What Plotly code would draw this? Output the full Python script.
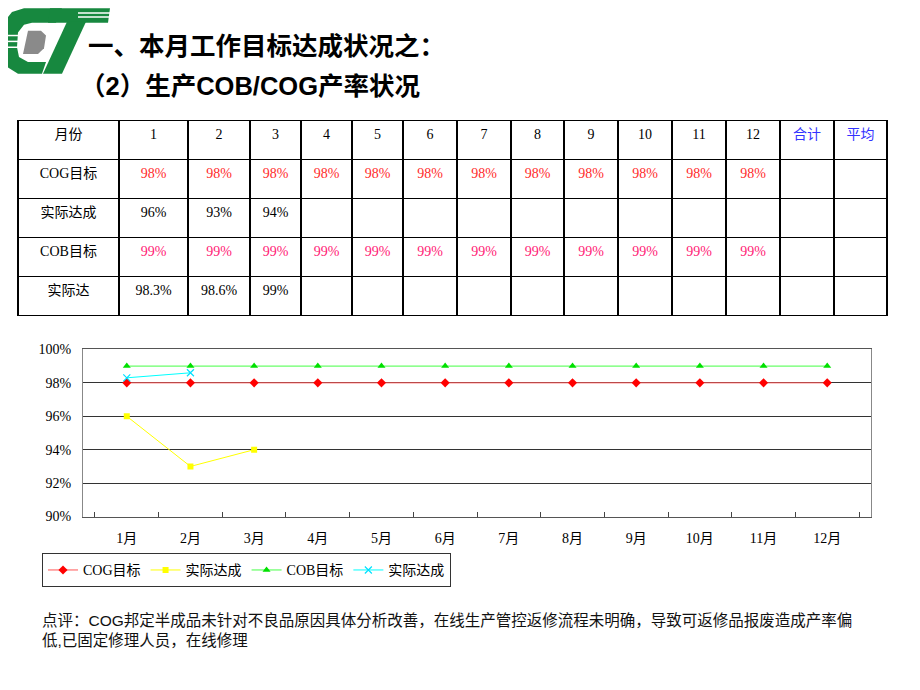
import plotly.graph_objects as go

# page is 920x690 but body has an 8px margin, so the figure is 904x674
W, H, OFF = 904, 674, 8

# data
months = ["1", "2", "3", "4", "5", "6", "7", "8", "9", "10", "11", "12"]
month_labels = ["1月", "2月", "3月", "4月", "5月", "6月", "7月", "8月", "9月", "10月", "11月", "12月"]
cog_target = [98, 98, 98, 98, 98, 98, 98, 98, 98, 98, 98, 98]
cog_actual = [96, 93, 94]
cob_target = [99, 99, 99, 99, 99, 99, 99, 99, 99, 99, 99, 99]
cob_actual = [98.3, 98.6, 99]
cob_actual_chart = [98.3, 98.6]   # chart only plots the first two months
row_names = ["COG目标", "实际达成", "COB目标", "实际达"]
col_widths = [101, 69, 62, 51, 51, 51, 54, 54, 53, 54, 54, 54, 54, 54, 53]

CJK_SERIF = "Liberation Serif, Noto Sans CJK SC"
CJK_SANS = "Liberation Sans, Noto Sans CJK SC"


def fx(x):
    return (x - OFF) / W


def fy(y):
    return 1 - (y - OFF) / H


def path(points, dy=-4):
    out = []
    for i, (x, y) in enumerate(points):
        out.append(("M" if i == 0 else "L") + f"{fx(x):.5f},{fy(y + dy):.5f}")
    return " ".join(out) + " Z"


def pct(v):
    return f"{v:g}%"


fig = go.Figure()

## table
header_vals = ["月份"] + months + ["合计", "平均"]
header_cols = ["black"] * 13 + ["#3333ff", "#3333ff"]
cells = [row_names]
cols = [["black"] * 4]
for i in range(12):
    col = [pct(cog_target[i]),
           pct(cog_actual[i]) if i < len(cog_actual) else "",
           pct(cob_target[i]),
           pct(cob_actual[i]) if i < len(cob_actual) else ""]
    cells.append(col)
    cols.append(["#ff2b2b", "black", "#ff1a75", "black"])
for _ in range(2):
    cells.append(["", "", "", ""])
    cols.append(["black"] * 4)

fig.add_trace(go.Table(
    domain=dict(x=[fx(18), fx(887)], y=[fy(320), fy(116)]),
    columnwidth=col_widths,
    header=dict(values=header_vals, height=39, align="center",
                fill_color="white", line=dict(color="black", width=1.5),
                font=dict(family=CJK_SERIF, size=14, color=header_cols)),
    cells=dict(values=cells, height=39, align="center",
               fill_color="white", line=dict(color="black", width=1.5),
               font=dict(family=CJK_SERIF, size=14, color=cols)),
))

## chart traces
fig.add_trace(go.Scatter(x=month_labels, y=cog_target, name="COG目标", mode="lines+markers",
                         line=dict(color="#ff5555", width=1),
                         marker=dict(symbol="diamond", size=7, color="red")))
fig.add_trace(go.Scatter(x=month_labels[:len(cog_actual)], y=cog_actual, name="实际达成", mode="lines+markers",
                         line=dict(color="#ffff00", width=1),
                         marker=dict(symbol="square", size=6, color="#ffff00")))
fig.add_trace(go.Scatter(x=month_labels, y=cob_target, name="COB目标", mode="lines+markers",
                         line=dict(color="#44ff44", width=1),
                         marker=dict(symbol="triangle-up", size=7, color="#00e000")))
fig.add_trace(go.Scatter(x=month_labels[:len(cob_actual_chart)], y=cob_actual_chart, name="实际达成",
                         mode="lines+markers",
                         line=dict(color="#00ffff", width=1),
                         marker=dict(symbol="x-thin", size=7, line=dict(color="#00e0ff", width=1.2))))

## logo
green = "#17883f"
shapes = [
    dict(type="path", path=path([(62, 5), (24, 5), (12, 9), (5, 18), (3, 30), (3, 52), (7, 65), (18, 72),
                                 (42, 72), (46, 60), (28, 60), (19, 55), (17, 45), (18, 30), (24, 22), (32, 20), (56, 20)]),
         fillcolor=green, line_width=0),
    dict(type="path", path=path([(50, 5), (110, 5), (108, 20), (48, 20)]), fillcolor=green, line_width=0),
    dict(type="path", path=path([(67, 19), (86, 19), (62, 72), (43, 72)]), fillcolor=green, line_width=0),
    dict(type="path", path=path([(28, 28), (41, 28), (46, 33), (44, 46), (38, 52), (23, 52)]),
         fillcolor="#8a8a8a", line_width=0),
]
for yy in (6, 10):
    shapes.append(dict(type="line", x0=fx(78), y0=fy(yy), x1=fx(112), y1=fy(yy),
                       line=dict(color="white", width=1.5)))
for yy in (29, 35, 41):
    shapes.append(dict(type="line", x0=fx(0), y0=fy(yy), x1=fx(24), y1=fy(yy),
                       line=dict(color="white", width=1.5)))
for s in shapes:
    s["xref"] = "paper"
    s["yref"] = "paper"
    s["layer"] = "above"

annotations = [
    dict(text="<b>一、本月工作目标达成状况之：</b>", x=fx(86), y=fy(40), xanchor="left", yanchor="middle",
         font=dict(family=CJK_SANS, size=25.5, color="black")),
    dict(text="<b>（2）生产COB/COG产率状况</b>", x=fx(78), y=fy(81), xanchor="left", yanchor="middle",
         font=dict(family=CJK_SANS, size=25.5, color="black")),
    dict(text="点评：COG邦定半成品未针对不良品原因具体分析改善，在线生产管控返修流程未明确，导致可返修品报废造成产率偏"
              "<br>低,已固定修理人员，在线修理",
         x=fx(40), y=fy(617), xanchor="left", yanchor="top", align="left",
         font=dict(family=CJK_SANS, size=15.5, color="#111")),
]
for a in annotations:
    a["xref"] = "paper"
    a["yref"] = "paper"
    a["showarrow"] = False

fig.update_layout(
    width=W, height=H,
    margin=dict(l=0, r=0, t=0, b=0),
    paper_bgcolor="white", plot_bgcolor="white",
    shapes=shapes, annotations=annotations,
    font=dict(family=CJK_SERIF, color="black"),
    xaxis=dict(domain=[fx(83), fx(871)], type="category", tickson="boundaries",
               ticks="inside", ticklen=5, tickcolor="#444", showgrid=False,
               showline=True, linecolor="#555", mirror=True, ticklabelstandoff=9,
               tickfont=dict(family=CJK_SERIF, size=14, color="black"), fixedrange=True),
    yaxis=dict(domain=[fy(521), fy(350)], range=[90, 100], dtick=2, ticksuffix="%",
               showgrid=True, gridcolor="#333", gridwidth=1, ticks="",
               showline=True, linecolor="#888", mirror=True, zeroline=False, ticklabelstandoff=8,
               tickfont=dict(family=CJK_SERIF, size=14, color="black"), fixedrange=True),
    showlegend=True,
    legend=dict(orientation="h", x=fx(42), y=fy(576), xanchor="left", yanchor="middle",
                bordercolor="#333", borderwidth=1, bgcolor="white",
                font=dict(family=CJK_SERIF, size=14, color="black"),
                itemwidth=30, tracegroupgap=0),
)

fig.write_html("out.html")
